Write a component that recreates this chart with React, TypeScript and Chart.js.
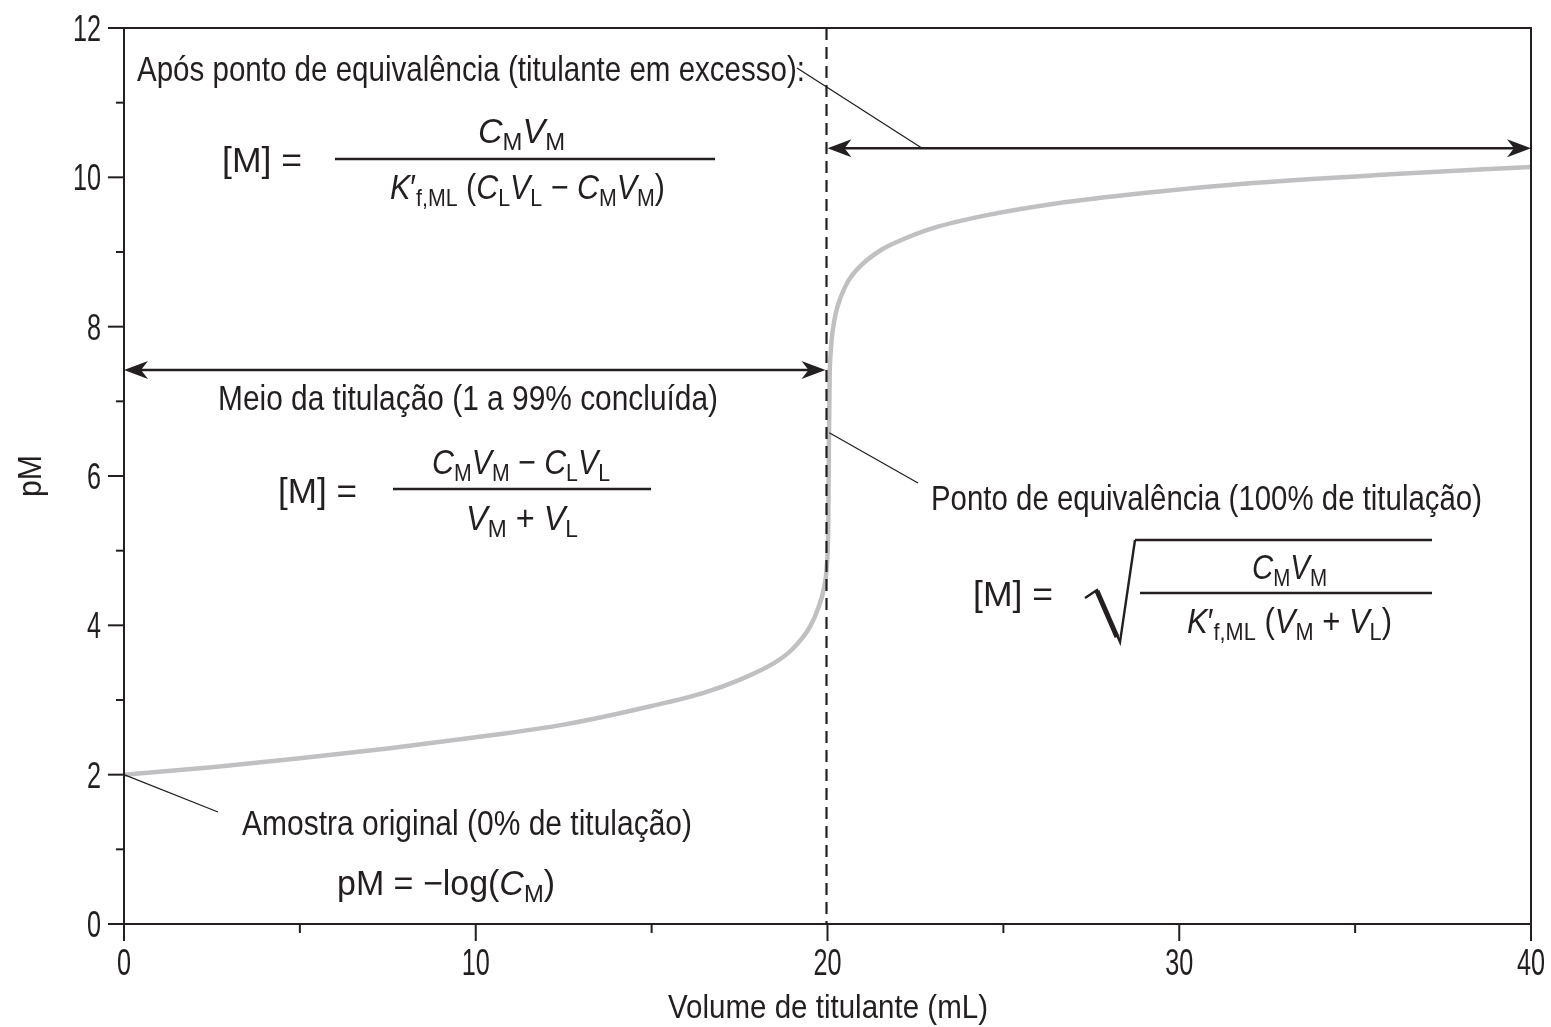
import React, { useEffect, useRef } from "react";
import { Chart, registerables } from "chart.js";

Chart.register(...registerables);

// ---- data ----
const volumeML = [0, 2.5, 5, 7.5, 10, 12.5, 15, 16.5, 17.5, 18.5, 19, 19.5, 19.75, 19.9, 19.98, 20.02, 20.04, 20.06, 20.09, 20.14, 20.23, 20.37, 20.6, 21, 21.5, 22, 23, 24.5, 26.5, 29, 32, 36, 40];
const pMValues = [2.0, 2.1, 2.22, 2.35, 2.5, 2.67, 2.92, 3.1, 3.27, 3.5, 3.68, 3.98, 4.25, 4.5, 4.8, 5.3, 6.4, 7.3, 7.65, 7.92, 8.17, 8.39, 8.62, 8.84, 9.02, 9.14, 9.32, 9.49, 9.65, 9.79, 9.92, 10.04, 10.14];
const xTickValues = [0, 10, 20, 30, 40];
const yTickValues = [0, 2, 4, 6, 8, 10, 12];
const xAxisTitle = "Volume de titulante (mL)";
const yAxisTitle = "pM";
const equivalenceVolume = 20;

const INK = "#231f20";
const FONT = "'Liberation Sans', Arial, sans-serif";
const TEXT_SIZE = 35;
const TICK_CONDENSE = 0.7;
const TICK_SIZE = 36;

type Seg = { t: string; i?: boolean; s?: boolean };

function segFont(seg: Seg, size: number) {
  const sz = seg.s ? size * 0.7 : size;
  return `${seg.i ? "italic " : ""}${sz}px ${FONT}`;
}

function richWidth(ctx: CanvasRenderingContext2D, segs: Seg[], size: number) {
  let w = 0;
  for (const sg of segs) {
    ctx.font = segFont(sg, size);
    w += ctx.measureText(sg.t).width;
  }
  return w;
}

function drawRich(ctx: CanvasRenderingContext2D, segs: Seg[], left: number, baseline: number, width: number, size = TEXT_SIZE) {
  const w = richWidth(ctx, segs, size);
  const s = width / w;
  ctx.save();
  ctx.translate(left, baseline);
  ctx.scale(s, 1);
  ctx.textAlign = "left";
  ctx.textBaseline = "alphabetic";
  ctx.fillStyle = INK;
  let x = 0;
  for (const sg of segs) {
    ctx.font = segFont(sg, size);
    ctx.fillText(sg.t, x, sg.s ? size * 0.2 : 0);
    x += ctx.measureText(sg.t).width;
  }
  ctx.restore();
}

function drawText(ctx: CanvasRenderingContext2D, text: string, left: number, baseline: number, width: number, size = TEXT_SIZE) {
  drawRich(ctx, [{ t: text }], left, baseline, width, size);
}

function drawCondensed(ctx: CanvasRenderingContext2D, text: string, x: number, baseline: number, align: "center" | "right", size: number) {
  ctx.save();
  ctx.font = `${size}px ${FONT}`;
  const w = ctx.measureText(text).width * TICK_CONDENSE;
  const left = align === "center" ? x - w / 2 : x - w;
  ctx.translate(left, baseline);
  ctx.scale(TICK_CONDENSE, 1);
  ctx.textAlign = "left";
  ctx.textBaseline = "alphabetic";
  ctx.fillStyle = INK;
  ctx.fillText(text, 0, 0);
  ctx.restore();
}

const CM: Seg[] = [{ t: "C", i: true }, { t: "M", s: true }];
const CL: Seg[] = [{ t: "C", i: true }, { t: "L", s: true }];
const VM: Seg[] = [{ t: "V", i: true }, { t: "M", s: true }];
const VL: Seg[] = [{ t: "V", i: true }, { t: "L", s: true }];
const KF: Seg[] = [{ t: "K", i: true }, { t: "′" }, { t: "f,ML", s: true }];
const EQ: Seg[] = [{ t: "[M] =" }];

const annotations = {
  id: "annotations",
  afterDraw(chart: any) {
    const { ctx, chartArea: a, scales } = chart;
    const X = (v: number) => scales.x.getPixelForValue(v);
    const Y = (v: number) => scales.y.getPixelForValue(v);
    const line = (x1: number, y1: number, x2: number, y2: number) => {
      ctx.beginPath();
      ctx.moveTo(x1, y1);
      ctx.lineTo(x2, y2);
      ctx.stroke();
    };
    const head = (tx: number, ty: number, dir: number) => {
      ctx.beginPath();
      ctx.moveTo(tx, ty);
      ctx.lineTo(tx + dir * 24, ty - 9);
      ctx.lineTo(tx + dir * 17, ty);
      ctx.lineTo(tx + dir * 24, ty + 9);
      ctx.closePath();
      ctx.fill();
    };
    const dblArrow = (x1: number, x2: number, yy: number) => {
      ctx.lineWidth = 2.6;
      line(x1 + 10, yy, x2 - 10, yy);
      head(x1, yy, 1);
      head(x2, yy, -1);
    };

    ctx.save();
    ctx.strokeStyle = INK;
    ctx.fillStyle = INK;
    ctx.lineCap = "butt";

    // frame
    ctx.lineWidth = 2;
    ctx.strokeRect(a.left, a.top, a.right - a.left, a.bottom - a.top);

    // tick marks (major + minor)
    for (let v = 0; v <= 12; v += 1) {
      const len = v % 2 === 0 ? 16 : 8;
      line(a.left - len, Y(v), a.left, Y(v));
    }
    for (let v = 0; v <= 40; v += 5) {
      const len = v % 10 === 0 ? 17 : 9;
      line(X(v), a.bottom, X(v), a.bottom + len);
    }

    // tick labels from the scales' ticks
    for (const t of scales.y.ticks) {
      drawCondensed(ctx, String(t.value), a.left - 23, Y(t.value) + 13, "right", TICK_SIZE);
    }
    for (const t of scales.x.ticks) {
      drawCondensed(ctx, String(t.value), X(t.value), a.bottom + 51, "center", TICK_SIZE);
    }

    // equivalence dashed line
    ctx.setLineDash([12, 7]);
    ctx.lineWidth = 2.2;
    line(X(equivalenceVolume) - 1, a.top, X(equivalenceVolume) - 1, a.bottom);
    ctx.setLineDash([]);

    // region arrows
    dblArrow(X(equivalenceVolume), X(40), Y(10.39));
    dblArrow(X(0), X(equivalenceVolume) - 2, Y(7.42));

    // leader lines
    ctx.lineWidth = 1.3;
    line(797, 68, X(22.69), Y(10.39));
    line(X(20.05), Y(6.58), 918, 483);
    line(X(0), Y(2), 218, 812);

    // texts
    drawText(ctx, "Após ponto de equivalência (titulante em excesso):", 137, 81, 668);
    drawText(ctx, "Meio da titulação (1 a 99% concluída)", 218, 410, 500);
    drawText(ctx, "Ponto de equivalência (100% de titulação)", 931, 510, 551);
    drawText(ctx, "Amostra original (0% de titulação)", 242, 835, 450);

    // formula 1
    drawRich(ctx, EQ, 222, 172, 80);
    drawRich(ctx, [...CM, ...VM], 478, 143, 87);
    drawRich(ctx, [...KF, { t: " (" }, ...CL, ...VL, { t: " − " }, ...CM, ...VM, { t: ")" }], 390, 199, 275);
    ctx.lineWidth = 2.4;
    line(335, 159, 715, 159);

    // formula 2
    drawRich(ctx, EQ, 278, 503, 79);
    drawRich(ctx, [...CM, ...VM, { t: " − " }, ...CL, ...VL], 432, 474, 178);
    drawRich(ctx, [...VM, { t: " + " }, ...VL], 466, 530, 112);
    ctx.lineWidth = 2.4;
    line(393, 489, 651, 489);

    // formula 3
    drawRich(ctx, EQ, 973, 606, 80);
    drawRich(ctx, [...CM, ...VM], 1252, 579, 75);
    drawRich(ctx, [...KF, { t: " (" }, ...VM, { t: " + " }, ...VL, { t: ")" }], 1187, 633, 205);
    ctx.lineWidth = 2.4;
    line(1140, 593, 1432, 593);
    // radical sign
    ctx.lineWidth = 2.4;
    ctx.beginPath();
    ctx.moveTo(1135, 540);
    ctx.lineTo(1432, 540);
    ctx.stroke();
    ctx.beginPath();
    ctx.moveTo(1085, 598);
    ctx.lineTo(1097, 590);
    ctx.lineTo(1120, 642);
    ctx.lineTo(1135, 540);
    ctx.stroke();
    ctx.lineWidth = 5;
    line(1097, 591, 1117, 637);

    // original sample formula
    drawRich(ctx, [{ t: "pM = −log(" }, ...CM, { t: ")" }], 337, 895, 218);

    // axis titles
    drawText(ctx, xAxisTitle, 668, 1018, 320, 34);
    ctx.save();
    ctx.translate(41, 497);
    ctx.rotate(-Math.PI / 2);
    drawText(ctx, yAxisTitle, 0, 0, 42, 34);
    ctx.restore();

    ctx.restore();
  },
};

export default function App() {
  const ref = useRef<HTMLCanvasElement | null>(null);
  useEffect(() => {
    if (!ref.current) return;
    const chart = new Chart(ref.current, {
      type: "line",
      data: {
        datasets: [
          {
            data: volumeML.map((v, i) => ({ x: v, y: pMValues[i] })),
            borderColor: "#c0c0c2",
            borderWidth: 4.5,
            pointRadius: 0,
            fill: false,
            cubicInterpolationMode: "monotone",
          },
        ],
      },
      options: {
        animation: false,
        responsive: false,
        devicePixelRatio: 1,
        layout: { padding: { top: 28, right: 20, left: 0, bottom: 0 } },
        plugins: { legend: { display: false }, tooltip: { enabled: false }, title: { display: false } },
        scales: {
          x: {
            type: "linear",
            min: 0,
            max: 40,
            afterBuildTicks: (s: any) => {
              s.ticks = xTickValues.map((v) => ({ value: v }));
            },
            afterFit: (s: any) => {
              s.height = 103;
              s.paddingLeft = 0;
              s.paddingRight = 0;
              s.paddingTop = 0;
              s.paddingBottom = 0;
            },
            ticks: { display: false },
            grid: { display: false },
            border: { display: false },
          },
          y: {
            type: "linear",
            min: 0,
            max: 12,
            afterBuildTicks: (s: any) => {
              s.ticks = yTickValues.map((v) => ({ value: v }));
            },
            afterFit: (s: any) => {
              s.width = 124;
              s.paddingLeft = 0;
              s.paddingRight = 0;
              s.paddingTop = 0;
              s.paddingBottom = 0;
            },
            ticks: { display: false },
            grid: { display: false },
            border: { display: false },
          },
        },
      },
      plugins: [annotations],
    } as any);
    return () => chart.destroy();
  }, []);
  return (
    <div style={{ position: "absolute", left: 0, top: 0, width: 1551, height: 1027, background: "#fff" }}>
      <canvas ref={ref} width={1551} height={1027} style={{ display: "block" }} />
    </div>
  );
}
